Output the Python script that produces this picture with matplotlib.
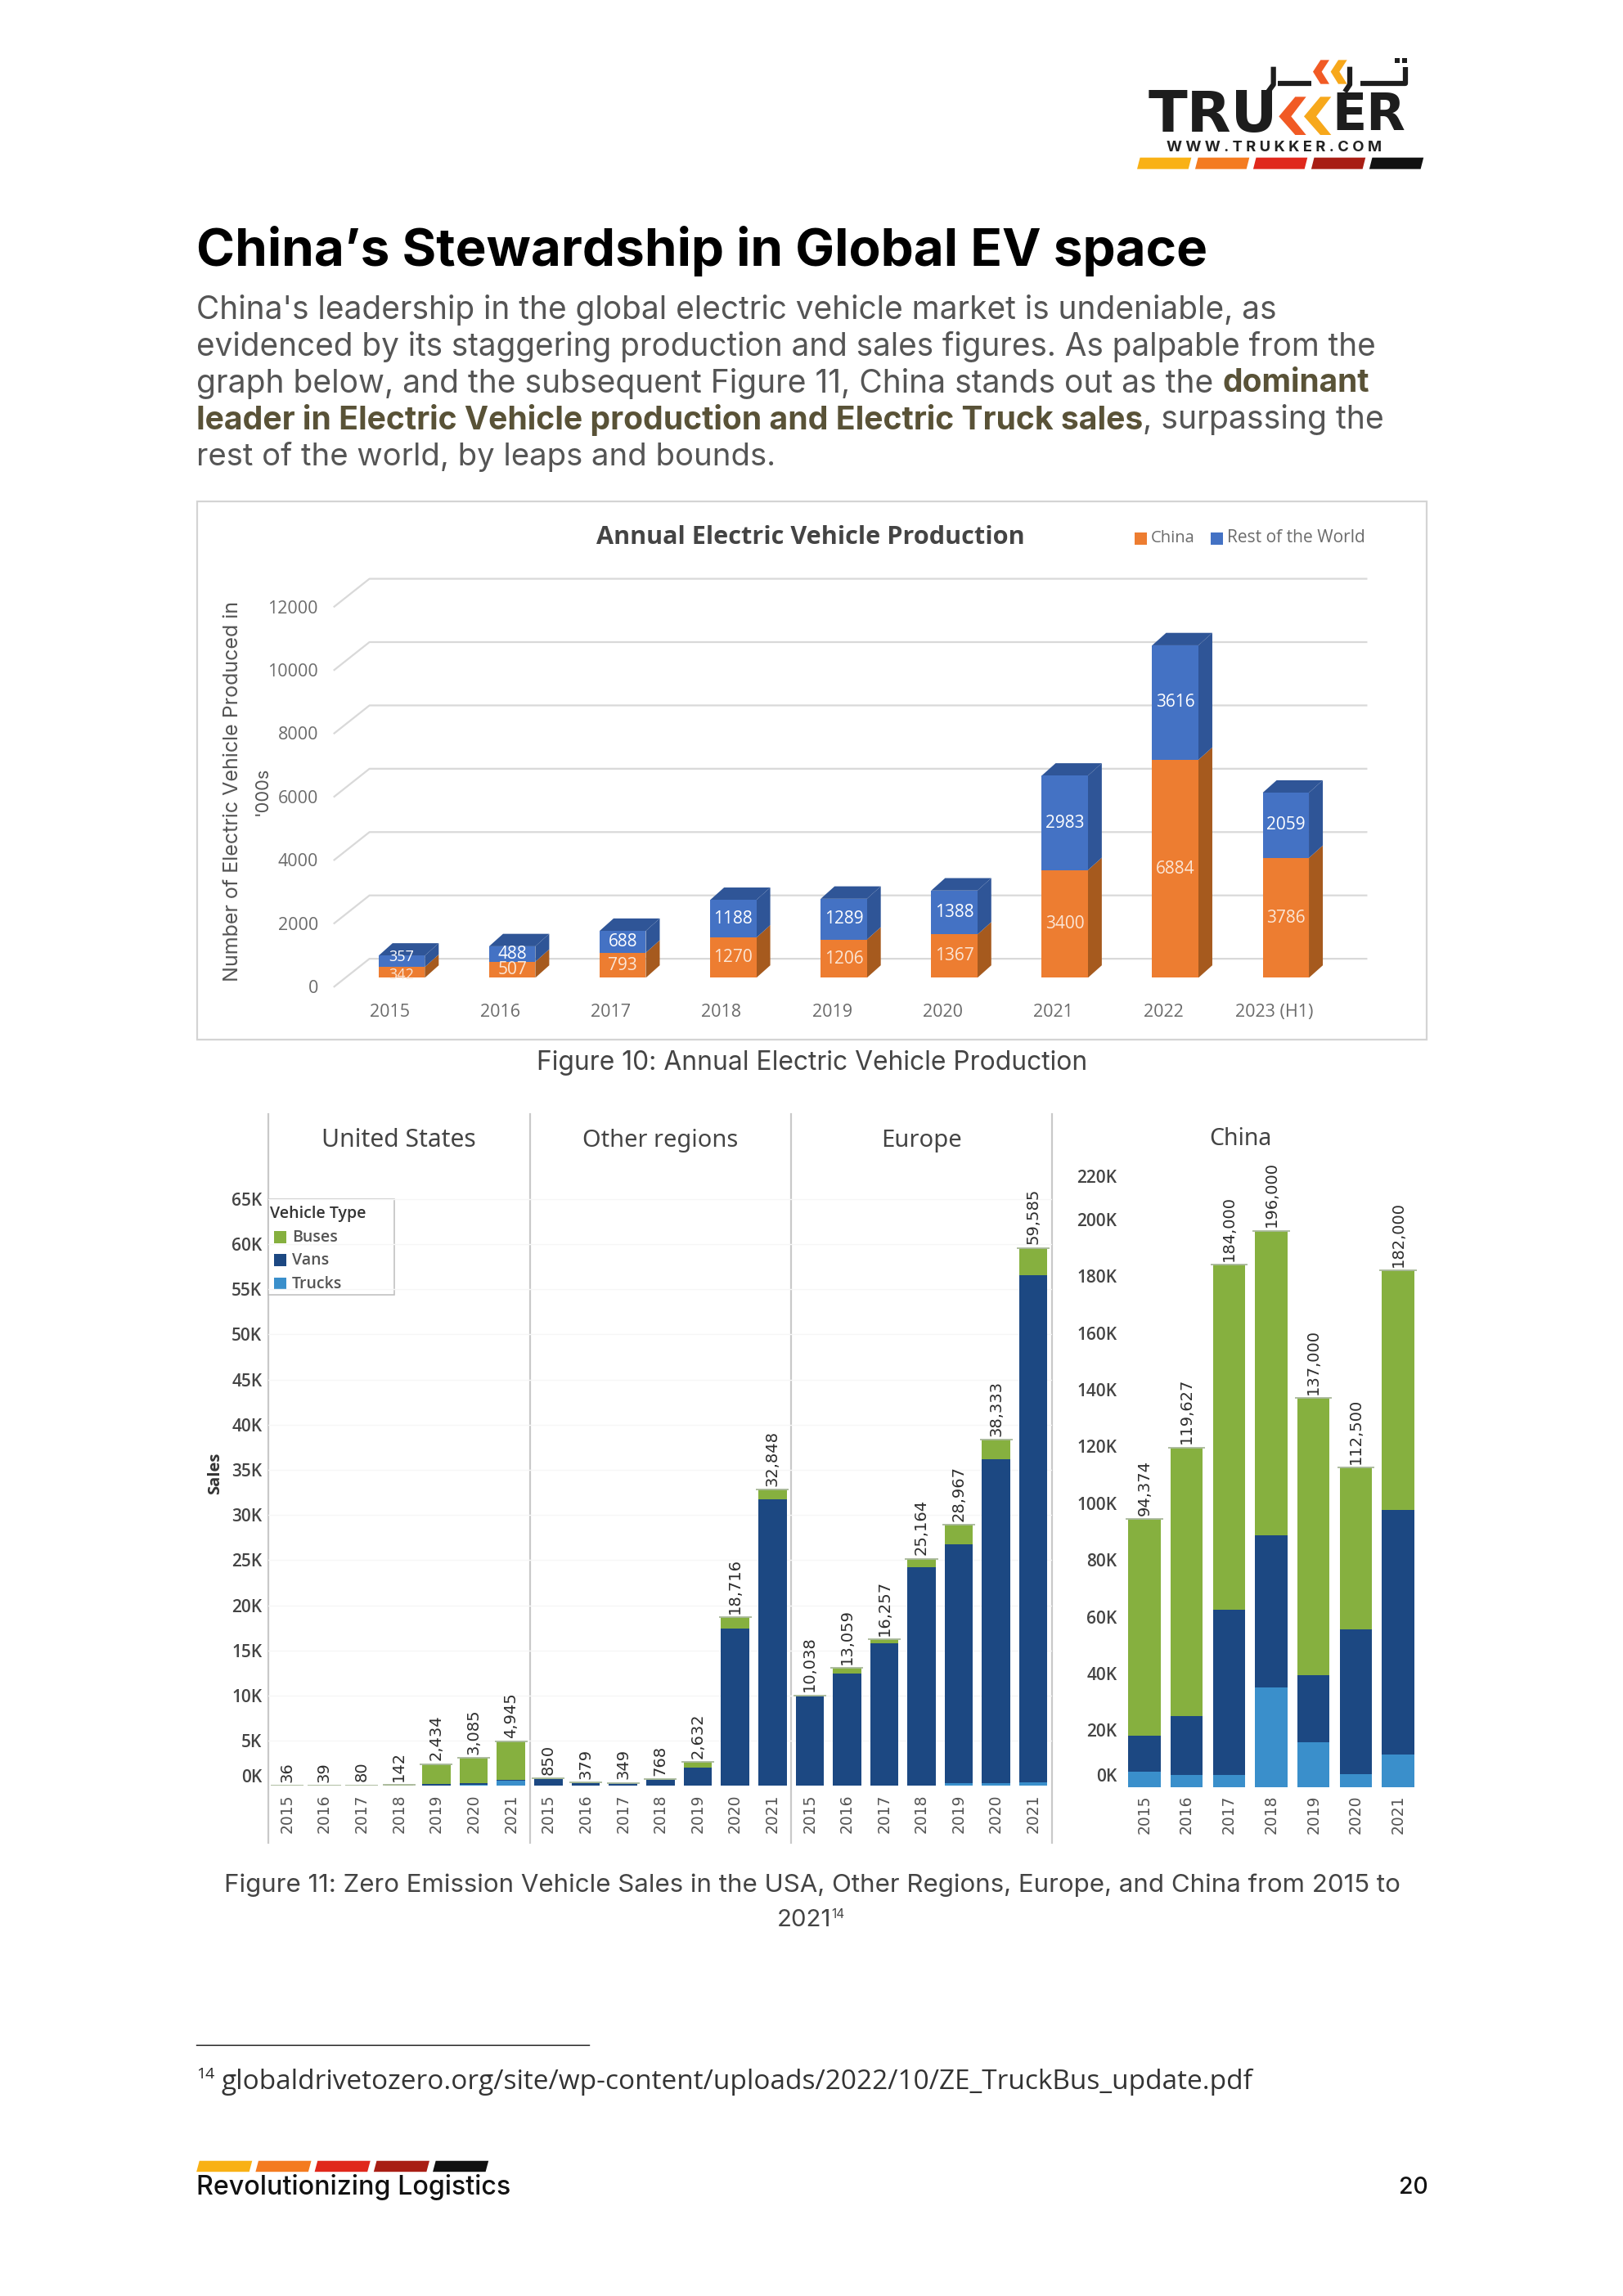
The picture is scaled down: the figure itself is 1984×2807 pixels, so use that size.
import matplotlib
matplotlib.use("Agg")
import matplotlib.pyplot as plt
from matplotlib.patches import Rectangle, Polygon
from matplotlib.transforms import Affine2D
from matplotlib.lines import Line2D

# ---------- data: Figure 10 ----------
prod_years = ["2015", "2016", "2017", "2018", "2019", "2020", "2021", "2022", "2023 (H1)"]
prod_china = [342, 507, 793, 1270, 1206, 1367, 3400, 6884, 3786]
prod_row = [357, 488, 688, 1188, 1289, 1388, 2983, 3616, 2059]
prod_ticks = [0, 2000, 4000, 6000, 8000, 10000, 12000]

# ---------- data: Figure 11 ----------
sale_years = ["2015", "2016", "2017", "2018", "2019", "2020", "2021"]
region_names = ["United States", "Other regions", "Europe"]
region_totals = [
    [36, 39, 80, 142, 2434, 3085, 4945],
    [850, 379, 349, 768, 2632, 18716, 32848],
    [10038, 13059, 16257, 25164, 28967, 38333, 59585],
]
region_trucks = [
    [0, 0, 0, 0, 60, 130, 560],
    [0, 0, 0, 0, 0, 50, 60],
    [30, 30, 40, 60, 300, 320, 450],
]
region_vans = [
    [0, 0, 20, 52, 120, 170, 130],
    [800, 340, 320, 700, 2075, 17350, 31690],
    [9870, 12420, 15760, 24140, 26500, 35850, 56150],
]
china_totals = [94374, 119627, 184000, 196000, 137000, 112500, 182000]
china_trucks = [5400, 4200, 4200, 35000, 15800, 4400, 11400]
china_vans = [12700, 20800, 58200, 53800, 23500, 51200, 86200]
region_ticks = [0, 5, 10, 15, 20, 25, 30, 35, 40, 45, 50, 55, 60, 65]
china_ticks = [0, 20, 40, 60, 80, 100, 120, 140, 160, 180, 200, 220]
vehicle_types = ["Buses", "Vans", "Trucks"]

# ---------- text ----------
TITLE = "China\u2019s Stewardship in Global EV space"
BODY = [
    [("China's leadership in the global electric vehicle market is undeniable, as", False)],
    [("evidenced by its staggering production and sales figures. As palpable from the", False)],
    [("graph below, and the subsequent Figure 11, China stands out as the ", False), ("dominant", True)],
    [("leader in Electric Vehicle production and Electric Truck sales", True), (", surpassing the", False)],
    [("rest of the world, by leaps and bounds.", False)],
]
BODY_WIDTHS = [735, 804, 800, 812, 394]

W, H = 1984, 2807
S = 1984 / 1107.0
fig = plt.figure(figsize=(W / 100, H / 100), dpi=100, facecolor="white")
page = fig.add_axes([0, 0, 1, 1])
page.set_xlim(0, W / S)
page.set_ylim(H / S, 0)
page.axis("off")
rend = fig.canvas.get_renderer()

SANS = "Inter"
OPEN = "Open Sans"
GREEN, NAVY, SKY = "#86B03F", "#1C4882", "#3A8FCB"
ORANGE, BLUE = "#ED7D31", "#4472C4"
ORANGE_D, BLUE_D = "#A65A1E", "#2F5597"


def T(x, y, s, width=None, size=12, family=SANS, weight="normal", color="#222222",
      ha="left", va="center", rotation=0):
    t = page.text(x, y, s, fontsize=size, family=family, weight=weight, color=color,
                  ha=ha, va=va, rotation=rotation)
    if width is not None:
        e = t.get_window_extent(rend)
        cur = max(e.width, e.height) if rotation else e.width
        t.set_fontsize(size * width * S / cur)
    return t


def axes_at(l, t, r, b):
    a = fig.add_axes([l * S / W, 1 - b * S / H, (r - l) * S / W, (b - t) * S / H])
    a.patch.set_visible(False)
    for sp in a.spines.values():
        sp.set_visible(False)
    a.tick_params(length=0)
    return a


def shift_label(lab, dx_disp, dy_disp):
    """dy_disp > 0 moves the label down the page."""
    lab.set_transform(lab.get_transform() + Affine2D().translate(dx_disp * S, -dy_disp * S))


def strips(x0, y0, w, h, gap, skew):
    cols = ["#F9B115", "#F47B20", "#E0281C", "#A81E14", "#111111"]
    for i, c in enumerate(cols):
        x = x0 + i * (w + gap)
        page.add_patch(Polygon([(x + skew, y0), (x + w + skew, y0), (x + w, y0 + h), (x, y0 + h)],
                               closed=True, fc=c, ec="none"))


def measure(s, size, weight):
    t = page.text(0, 0, s.replace(" ", "\u00a0"), fontsize=size, family=SANS, weight=weight)
    v = t.get_window_extent(rend).width / S
    t.remove()
    return v


# ---------- logo ----------
def lx(z):
    return (1370 + z / 3) / S


def ly(z):
    return (50 + z / 3) / S


LOGO = "DejaVu Sans"
T(lx(100), ly(275), "TRU", width=(575 - 100) / 3 / S, size=40, family=LOGO, weight="bold", color="#1d1d1d")
T(lx(775), ly(275), "ER", width=(1045 - 775) / 3 / S, size=40, family=LOGO, weight="bold", color="#1d1d1d")
for x0, c in [(580, "#F15A24"), (672, "#F7A81B")]:
    page.add_patch(Polygon([(lx(x0 + 60), ly(205)), (lx(x0 + 100), ly(205)), (lx(x0 + 45), ly(277)),
                            (lx(x0 + 100), ly(345)), (lx(x0 + 60), ly(345)), (lx(x0), ly(277))],
                           closed=True, fc=c, ec="none"))
T((lx(170) + lx(955)) / 2, ly(391), "W W W . T R U K K E R . C O M", width=(955 - 170) / 3 / S, size=8,
  weight="bold", color="#222222", ha="center")
for xs, ys in [([1045, 1045, 880], [95, 155, 155]), ([840, 840, 822], [95, 160, 187]),
               ([700, 575], [155, 155]), ([560, 560, 540], [95, 160, 187])]:
    page.plot([lx(v) for v in xs], [ly(v) for v in ys], color="#1d1d1d", lw=4.5, solid_capstyle="butt")
for xd in (1015, 1040):
    page.add_patch(Rectangle((lx(xd - 9), ly(62)), 18 / 3 / S, 18 / 3 / S, fc="#1d1d1d", ec="none"))
for x0, c in [(705, "#F15A24"), (770, "#F7A81B")]:
    page.add_patch(Polygon([(lx(x0 + 28), ly(70)), (lx(x0 + 60), ly(70)), (lx(x0 + 32), ly(113)),
                            (lx(x0 + 60), ly(158)), (lx(x0 + 28), ly(158)), (lx(x0), ly(113))],
                           closed=True, fc=c, ec="none"))
strips(lx(60), ly(428), 35, ly(470) - ly(428), 4.6, 2)

# ---------- heading and body ----------
T(134, 171.5, TITLE, width=690, size=40, weight="bold", color="#000000")
for i, (line, target) in enumerate(zip(BODY, BODY_WIDTHS)):
    total = sum(measure(s, 20, "bold" if b else "normal") for s, b in line)
    size = 20 * target / total
    x = 134
    for s, bold in line:
        w8 = "bold" if bold else "normal"
        T(x, 210 + 25 * i + 1.5, s, size=size, weight=w8, color="#595237" if bold else "#555555")
        x += measure(s, size, w8)

# ---------- Figure 10 ----------
page.add_patch(Rectangle((134.5, 342), 838.5, 367, fc="white", ec="#d4d4d4", lw=1.6))
T(553, 366.5, "Annual Electric Vehicle Production", width=294, size=16, family=OPEN, weight="bold",
  color="#444444", ha="center")
page.add_patch(Rectangle((774, 363.5), 8, 8, fc=ORANGE, ec="none"))
T(785, 367, "China", width=30, size=11, family=OPEN, color="#6b6b6b")
page.add_patch(Rectangle((826, 363.5), 8, 8, fc=BLUE, ec="none"))
T(837, 367, "Rest of the World", width=95, size=11, family=OPEN, color="#6b6b6b")
T(159, 540, "Number of Electric Vehicle Produced in", width=260, size=12, color="#555555",
  rotation=90, ha="center")
T(179, 540, "'000s", width=33, size=12, color="#555555", rotation=90, ha="center")

PX = 0.0216  # display units per vehicle on the front plane
base = 667
L1, R1 = 236.3, 914.7
ax = axes_at(L1, base - 13000 * PX, R1, base)
ax.set_xlim(-0.5, 8.5)
ax.set_ylim(0, 13000)
STEP = (R1 - L1) / 9
dep_x, dep_y = 9.5 / STEP, 8.5 / PX
back = 13 / PX
for v in prod_ticks:
    ax.plot([(932 - L1) / STEP - 0.5, (252 - L1) / STEP - 0.5, (228 - L1) / STEP - 0.5],
            [v + back, v + back, v - 6 / PX], color="#d9d9d9", lw=1.6, clip_on=False, zorder=1)
w = 31.5 / STEP
for i, (c, r) in enumerate(zip(prod_china, prod_row)):
    for v0, v1, col, dark, tc, nudge in [(0, c, ORANGE, ORANGE_D, "#fbe6d6", -2.5),
                                         (c, c + r, BLUE, BLUE_D, "white", 3.5)]:
        ax.bar(i, v1 - v0, w, bottom=v0, color=col, zorder=3)
        ax.fill([i + w / 2, i + w / 2 + dep_x, i + w / 2 + dep_x, i + w / 2],
                [v0, v0 + dep_y, v1 + dep_y, v1], color=dark, lw=0, zorder=2.5)
        small = v1 - v0 < 400
        ax.annotate(str(v1 - v0), (i, (v0 + v1) / 2), xytext=(0, nudge if small else 0),
                    textcoords="offset points", color=tc, ha="center", va="center",
                    fontsize=13 if small else 15, family=OPEN, zorder=5)
    top = c + r
    ax.fill([i - w / 2, i + w / 2, i + w / 2 + dep_x, i - w / 2 + dep_x],
            [top, top, top + dep_y, top + dep_y], color=BLUE_D, lw=0, zorder=2.5)
ax.set_xticks(range(len(prod_years)))
ax.set_xticklabels(prod_years, fontsize=15.5, family=OPEN, color="#6b6b6b")
ax.tick_params(axis="x", pad=23)
for lab in ax.get_xticklabels():
    shift_label(lab, -8, 0)
ax.set_yticks(prod_ticks)
ax.set_yticklabels([str(v) for v in prod_ticks], fontsize=15.5, family=OPEN, color="#6b6b6b")
ax.tick_params(axis="y", pad=(L1 - 217) * S / 100 * 72)
for lab in ax.get_yticklabels():
    shift_label(lab, 0, 6)

T(554, 725, "Figure 10: Annual Electric Vehicle Production", width=376, size=14, color="#444444", ha="center")


# ---------- Figure 11 ----------
def stacked(a, totals, trucks, vans):
    for i, (tot, tr, va) in enumerate(zip(totals, trucks, vans)):
        buses = tot - tr - va
        a.bar(i, tr, 0.76, color=SKY, zorder=3)
        a.bar(i, va, 0.76, bottom=tr, color=NAVY, zorder=3)
        a.bar(i, buses, 0.76, bottom=tr + va, color=GREEN, zorder=3)
        a.hlines(tot, i - 0.44, i + 0.44, color="#a8b89a", lw=1.3, zorder=4)
        a.annotate(f"{tot:,}", (i, tot), xytext=(0, 3), textcoords="offset points", rotation=90,
                   ha="center", va="bottom", fontsize=14, color="#2d2d2d", zorder=5)
    a.set_xlim(-0.5, 6.5)
    a.set_xticks(range(len(sale_years)))
    a.set_xticklabels(sale_years, rotation=90, fontsize=13.5, color="#555555")
    a.tick_params(axis="x", pad=7)


reg_base = 1218.3
reg_px = 30.8 / 5000
edges = [183, 361.3, 539.6, 717.5]
for k in range(3):
    a = axes_at(edges[k], reg_base - 70000 * reg_px, edges[k + 1], reg_base)
    a.set_ylim(0, 70000)
    for v in region_ticks[1:]:
        a.axhline(v * 1000, color="#f6f6f6", lw=1, zorder=1)
    stacked(a, region_totals[k], region_trucks[k], region_vans[k])
    if k == 0:
        a.set_yticks([v * 1000 for v in region_ticks])
        a.set_yticklabels([f"{v}K" for v in region_ticks], fontsize=15, family=OPEN,
                          weight="semibold", color="#444444")
        a.tick_params(axis="y", pad=5.5)
        shift_label(a.get_yticklabels()[0], 0, -7)
    else:
        a.set_yticks([])
    T((edges[k] + edges[k + 1]) / 2, 778, region_names[k], width=[106, 106, 55][k], size=15,
      family="Noto Sans", color="#444444", ha="center")
for x in edges:
    page.plot([x, x], [760, 1257], color="#c9c9c9", lw=1.6, zorder=0.5)
T(147, 1005, "Sales", size=14.5, family=OPEN, weight="bold", color="#333333", rotation=90, ha="center")

ch_base = 1219
ch_px = 1.936 / 1000
ac = axes_at(766.1, ch_base - 230000 * ch_px, 968, ch_base)
ac.set_ylim(0, 230000)
stacked(ac, china_totals, china_trucks, china_vans)
ac.set_yticks([v * 1000 for v in china_ticks])
ac.set_yticklabels([f"{v}K" for v in china_ticks], fontsize=15, family=OPEN, weight="semibold",
                   color="#444444")
ac.tick_params(axis="y", pad=5.5)
shift_label(ac.get_yticklabels()[0], 0, -8)
shift_label(ac.get_yticklabels()[-1], 0, 9)
T(846, 777, "China", width=43, size=15, family="Noto Sans", color="#444444", ha="center")

# legend of Figure 11
page.add_patch(Rectangle((183, 818), 86, 65, fc="white", ec="#bdbdbd", lw=1.1, zorder=6))
page.text(184, 828, "Vehicle Type", fontsize=14, family=OPEN, weight="semibold", color="#333333",
          va="center", zorder=7)
for name, col, y in zip(vehicle_types, [GREEN, NAVY, SKY], [844, 860, 876]):
    page.add_patch(Rectangle((187, y - 4.5), 8.5, 8.5, fc=col, ec="none", zorder=7))
    page.text(199, y, name, fontsize=14, family=OPEN, weight="semibold", color="#555555",
              va="center", zorder=7)
page.set_zorder(0)

# captions
T(554, 1286, "Figure 11: Zero Emission Vehicle Sales in the USA, Other Regions, Europe, and China from 2015 to",
  width=804, size=14, color="#444444", ha="center")
T(530, 1310, "2021", width=37, size=14, color="#444444")
T(567, 1306, "14", size=11, color="#444444")

# footnote
page.add_artist(Line2D([134, 402], [1395, 1395], color="#111111", lw=1))
T(134, 1415, "14", size=14, family=OPEN, color="#222222")
T(151, 1420, "globaldrivetozero.org/site/wp-content/uploads/2022/10/ZE_TruckBus_update.pdf", width=703,
  size=15, family=OPEN, color="#333333")

# footer
strips(134, 1474, 36, 7.5, 4.3, 2)
T(134, 1492, "Revolutionizing Logistics", width=213, size=14, weight="medium", color="#111111")
T(974, 1492, "20", width=20, size=14, weight="medium", color="#111111", ha="right")

fig.savefig("out.png", dpi=100, facecolor="white")
